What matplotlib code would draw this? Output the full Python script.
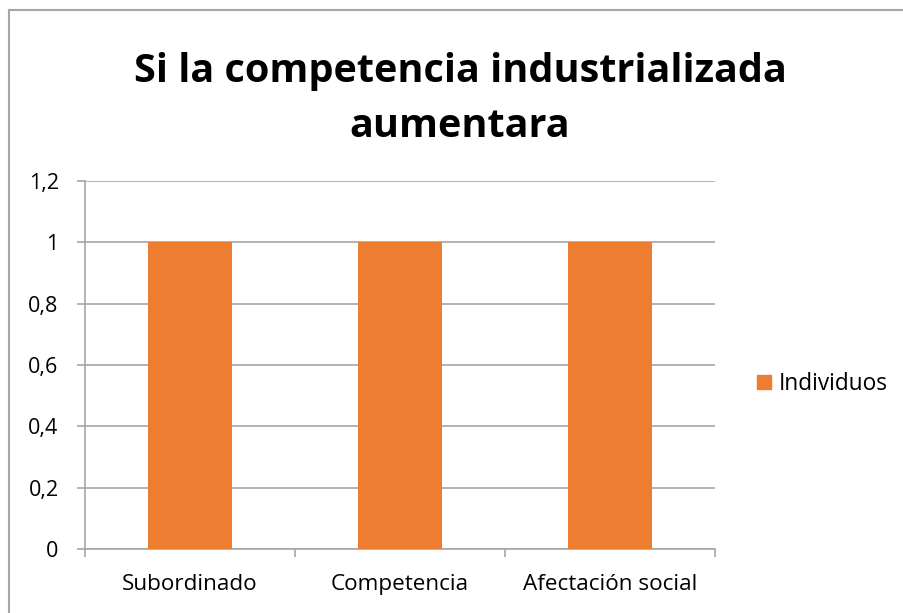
import matplotlib
matplotlib.use("Agg")
import matplotlib.pyplot as plt
from matplotlib.patches import Patch
from matplotlib.lines import Line2D

categories = ["Subordinado", "Competencia", "Afectación social"]
values = [1, 1, 1]
series_name = "Individuos"
yticks = [0, 0.2, 0.4, 0.6, 0.8, 1.0, 1.2]
ytick_labels = ["0", "0,2", "0,4", "0,6", "0,8", "1", "1,2"]
title = "Si la competencia industrializada\naumentara"

W, H = 904, 613
fig = plt.figure(figsize=(W/100, H/100), dpi=100)
plt.rcParams['font.family'] = ['Open Sans', 'DejaVu Sans']

ax = fig.add_axes([85/W, 1-549/H, (715-85)/W, (549-181)/H])
x = list(range(len(categories)))
ax.bar(x, values, width=0.4, color="#ED7D31", zorder=3)
ax.set_xlim(-0.5, len(categories)-0.5)
ax.set_ylim(0, 1.2)
ax.set_yticks(yticks)
ax.set_yticklabels(ytick_labels, fontsize=15.5)
ax.set_xticks(x)
ax.set_xticklabels(categories, fontsize=16.2)
ax.tick_params(axis='x', length=0, pad=18)
ax.tick_params(axis='y', length=6, color="#A6A6A6", width=1.2, pad=13)
ax.grid(axis='y', color="#A6A6A6", linewidth=1.2, zorder=0)
for s in ["top", "right"]:
    ax.spines[s].set_visible(False)
ax.spines["left"].set_color("#A6A6A6")
ax.spines["left"].set_linewidth(1.2)
ax.spines["bottom"].set_color("#A6A6A6")
ax.spines["bottom"].set_linewidth(1.2)
# category separator ticks
ax.set_xticks([i - 0.5 for i in range(len(categories)+1)], minor=True)
ax.tick_params(axis='x', which='minor', length=6, color="#A6A6A6", width=1.2)

fig.text(460/W, 1-99/H, title, ha='center', va='center', fontsize=28.5,
         fontweight='bold', linespacing=1.55)

leg = fig.legend(handles=[Patch(color="#ED7D31", label=series_name)],
                 loc='center left', bbox_to_anchor=(757/W, 1-384/H),
                 frameon=False, fontsize=16.3, handlelength=0.6, handleheight=0.6,
                 handletextpad=0.35, borderpad=0, borderaxespad=0)

fig.add_artist(Line2D([8.5/W, 8.5/W], [0, 1-9.5/H], transform=fig.transFigure,
                      color="#A6A6A6", linewidth=1.5))
fig.add_artist(Line2D([8.5/W, 1], [1-9.5/H, 1-9.5/H], transform=fig.transFigure,
                      color="#A6A6A6", linewidth=1.5))

fig.savefig("out.png", dpi=100)
